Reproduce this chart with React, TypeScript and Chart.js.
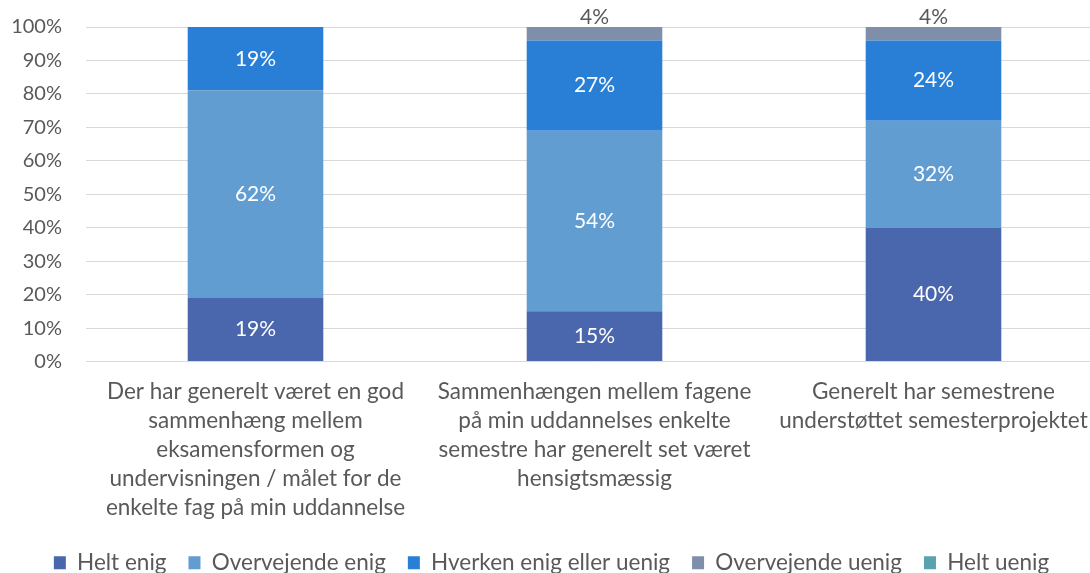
import React, { useEffect, useRef } from "react";
import { Chart, registerables } from "chart.js";

Chart.register(...registerables);

const categories: string[][] = [
  ["Der har generelt været en god", "sammenhæng mellem", "eksamensformen og", "undervisningen / målet for de", "enkelte fag på min uddannelse"],
  ["Sammenhængen mellem fagene", "på min uddannelses enkelte", "semestre har generelt set været", "hensigtsmæssig"],
  ["Generelt har semestrene", "understøttet semesterprojektet"],
];

const seriesNames = ["Helt enig", "Overvejende enig", "Hverken enig eller uenig", "Overvejende uenig", "Helt uenig"];
const heltEnig = [19, 15, 40];
const overvejendeEnig = [62, 54, 32];
const hverken = [19, 27, 24];
const overvejendeUenig = [0, 4, 4];
const heltUenig = [0, 0, 0];
const seriesColors = ["#4A66AC", "#629DD1", "#297FD5", "#7F8FA9", "#5AA2AE"];
const yTicks = [0, 10, 20, 30, 40, 50, 60, 70, 80, 90, 100];

const FONT = "Lato, 'Open Sans', sans-serif";
const TEXT = "#595959";

const labelPlugin = {
  id: "segLabels",
  afterDatasetsDraw(chart: any) {
    const ctx = chart.ctx;
    ctx.save();
    ctx.font = `21px ${FONT}`;
    ctx.textAlign = "center";
    ctx.textBaseline = "middle";
    chart.data.datasets.forEach((ds: any, i: number) => {
      const meta = chart.getDatasetMeta(i);
      meta.data.forEach((el: any, j: number) => {
        const v = ds.data[j];
        if (!v) return;
        const top = Math.min(el.y, el.base);
        const bottom = Math.max(el.y, el.base);
        if (v >= 8) {
          ctx.fillStyle = "#ffffff";
          ctx.fillText(v + "%", el.x, (top + bottom) / 2);
        } else {
          ctx.fillStyle = TEXT;
          ctx.fillText(v + "%", el.x, top - 10);
        }
      });
    });
    ctx.restore();
  },
};

export default function App() {
  const ref = useRef<HTMLCanvasElement>(null);
  useEffect(() => {
    document.body.style.margin = "0";
    document.body.style.overflow = "hidden";
    const values = [heltEnig, overvejendeEnig, hverken, overvejendeUenig, heltUenig];
    const chart = new Chart(ref.current!, {
      type: "bar",
      data: {
        labels: categories,
        datasets: seriesNames.map((n, i) => ({
          label: n,
          data: values[i],
          backgroundColor: seriesColors[i],
          borderWidth: 0,
          categoryPercentage: 1,
          barPercentage: 0.4,
        })),
      },
      options: {
        animation: false,
        responsive: false,
        maintainAspectRatio: false,
        layout: { padding: { top: 18, right: 33, left: 0, bottom: 0 } },
        plugins: {
          legend: {
            position: "bottom",
            labels: {
              boxWidth: 12,
              boxHeight: 13,
              padding: 22,
              color: TEXT,
              font: { family: FONT, size: 22.5 },
            },
          },
          tooltip: { enabled: false },
        },
        scales: {
          x: {
            stacked: true,
            grid: { display: false },
            border: { display: false },
            ticks: {
              color: TEXT,
              font: { family: FONT, size: 22.5, lineHeight: 1.29 },
              padding: 8,
              maxRotation: 0,
              autoSkip: false,
            },
            afterFit: (s: any) => {
              s.height = 168;
            },
          },
          y: {
            stacked: true,
            min: 0,
            max: 100,
            afterBuildTicks: (s: any) => {
              s.ticks = yTicks.map((v) => ({ value: v }));
            },
            grid: { color: "#D9D9D9", lineWidth: 1, drawTicks: false },
            border: { display: false },
            ticks: {
              color: TEXT,
              font: { family: FONT, size: 20 },
              padding: 24,
              callback: (v: any) => v + "%",
            },
            afterFit: (s: any) => {
              s.width = 86;
            },
          },
        },
      },
      plugins: [labelPlugin],
    });
    return () => chart.destroy();
  }, []);
  return (
    <div style={{ position: "fixed", left: 0, top: 0, width: 1090, height: 573, overflow: "hidden", background: "#fff" }}>
      <canvas ref={ref} width={1136} height={593} style={{ display: "block", marginTop: -9 }} />
    </div>
  );
}
